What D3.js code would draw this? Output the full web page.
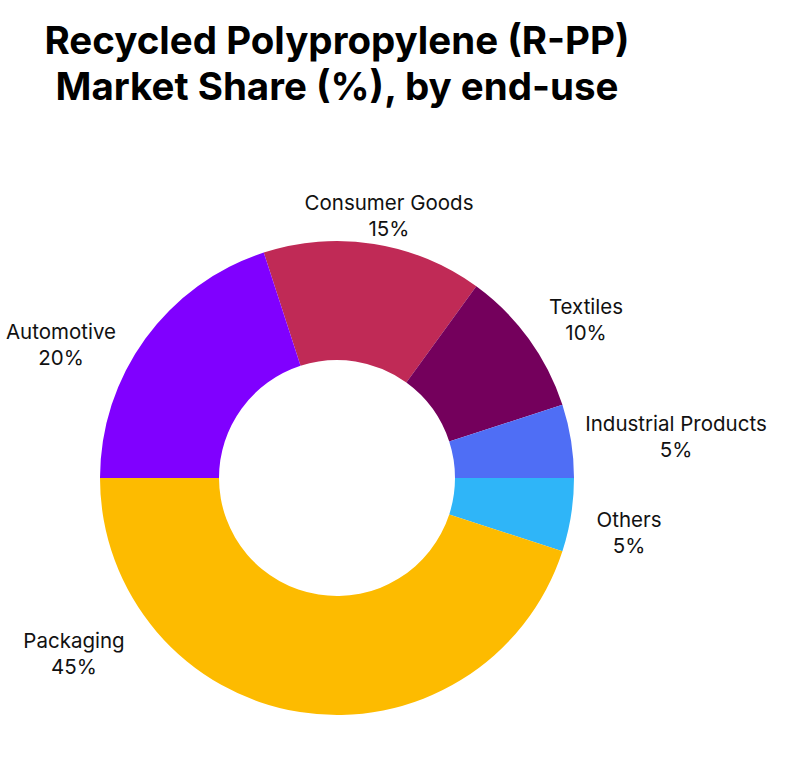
<!DOCTYPE html><html><head><meta charset="utf-8">
<script src="https://cdn.jsdelivr.net/npm/d3@7"></script>
<style>body{margin:0;background:#fff}text{font-family:Inter,"Noto Sans",sans-serif}</style></head><body>
<svg id="c" width="788" height="770"></svg>
<script>
const categories=["Consumer Goods","Textiles","Industrial Products","Others","Packaging","Automotive"];
const shares=[15,10,5,5,45,20];
const colors=["#C02A56","#74005C","#4F6EF5","#2FB5F8","#FDBB00","#8000FF"];
// label anchor layout (x,y of first line)
const labelLayout=[[389,210],[586,314],[676,431],[629,527],[74,648],[61,339]];
const svg=d3.select("#c");
const cx=337,cy=478,R=237,r=118;
const t=svg.append("text").attr("text-anchor","middle").attr("font-weight",700).attr("font-size",38.5).attr("fill","#000");
t.append("tspan").attr("x",337).attr("y",54).text("Recycled Polypropylene (R-PP)");
t.append("tspan").attr("x",337).attr("y",100).text("Market Share (%), by end-use");
const pie=d3.pie().sort(null).startAngle(-18*Math.PI/180).endAngle(342*Math.PI/180);
const arc=d3.arc().innerRadius(r).outerRadius(R);
const g=svg.append("g").attr("transform",`translate(${cx},${cy})`);
g.selectAll("path").data(pie(shares)).join("path").attr("d",arc).attr("fill",(d,i)=>colors[i]);
categories.forEach((c,i)=>{
  const [x,y]=labelLayout[i];
  const tx=svg.append("text").attr("text-anchor","middle").attr("font-size",20.5).attr("fill","#111");
  tx.append("tspan").attr("x",x).attr("y",y).text(c);
  tx.append("tspan").attr("x",x).attr("y",y+26).text(shares[i]+"%");
});
</script></body></html>
